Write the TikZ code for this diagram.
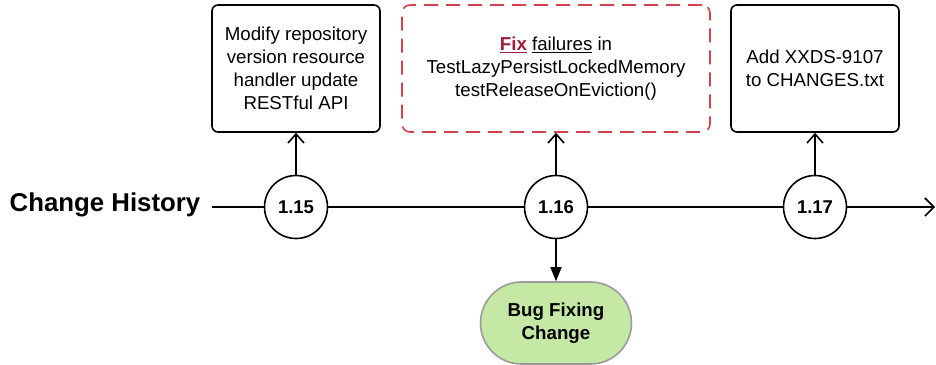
\documentclass[tikz,border=0pt]{standalone}
\usepackage{fontspec}
\setmainfont{Liberation Sans}
\usetikzlibrary{arrows.meta,shapes.misc}
\definecolor{fixred}{HTML}{A01D3C}
\definecolor{dashred}{HTML}{D4404E}
\definecolor{bugfill}{HTML}{C5E8A5}
\definecolor{buggray}{HTML}{9A9A9A}
\begin{document}
\begin{tikzpicture}[x=1pt,y=-1pt,
  notebox/.style={draw=black,line width=1.6pt,rounded corners=6pt,minimum width=168pt,minimum height=127pt,align=center,font=\fontsize{18.7}{23}\selectfont,inner sep=0pt},
  fixbox/.style={draw=dashred,line width=1.6pt,dash pattern=on 14pt off 8pt,rounded corners=8pt,minimum width=308pt,minimum height=127pt,align=center,font=\fontsize{18.7}{23}\selectfont,inner sep=0pt},
  version/.style={circle,draw=black,line width=1.6pt,fill=white,minimum size=63pt,inner sep=0pt,font=\fontsize{18.5}{20}\selectfont\bfseries},
  timeline/.style={line width=1.6pt},
  uparrow/.style={line width=1.6pt,-{Straight Barb[length=9pt,width=16pt,line width=1.6pt]}},
  downarrow/.style={line width=1.6pt,-{Triangle[length=14pt,width=11pt]}},
  bugbox/.style={rounded rectangle,draw=buggray,line width=1.6pt,fill=bugfill,minimum width=151pt,minimum height=82pt,align=center,font=\fontsize{18.7}{22.5}\selectfont\bfseries,inner sep=0pt}
]
\useasboundingbox (0,0) rectangle (936,364);
\node[font=\fontsize{25.8}{28}\selectfont\bfseries,anchor=center] (title) at (105,205) {Change History};
\coordinate (start) at (212,207);
\coordinate (end) at (935,207);
\node[version] (v15) at (296,207) {1.15};
\node[version] (v16) at (556,207) {1.16};
\node[version] (v17) at (815,207) {1.17};
\draw[timeline] (start) -- (v15);
\draw[timeline] (v15) -- (v16);
\draw[timeline] (v16) -- (v17);
\draw[timeline,-{Straight Barb[length=9pt,width=18pt,line width=1.6pt]}] (v17) -- (end);
\node[notebox] (b15) at (296,68.5) {Modify repository\\version resource\\handler update\\RESTful API};
\node[fixbox] (b16) at (556,68.5) {\textcolor{fixred}{\underline{\textbf{Fix}}} \underline{failures} in\\TestLazyPersistLockedMemory\\testReleaseOnEviction()};
\node[notebox] (b17) at (815,68.5) {Add XXDS-9107\\to CHANGES.txt};
\draw[uparrow] (v15) -- (b15);
\draw[uparrow] (v16) -- (b16);
\draw[uparrow] (v17) -- (b17);
\node[bugbox] (bug) at (556,323) {Bug Fixing\\Change};
\draw[downarrow] (v16) -- (bug);
\end{tikzpicture}
\end{document}
